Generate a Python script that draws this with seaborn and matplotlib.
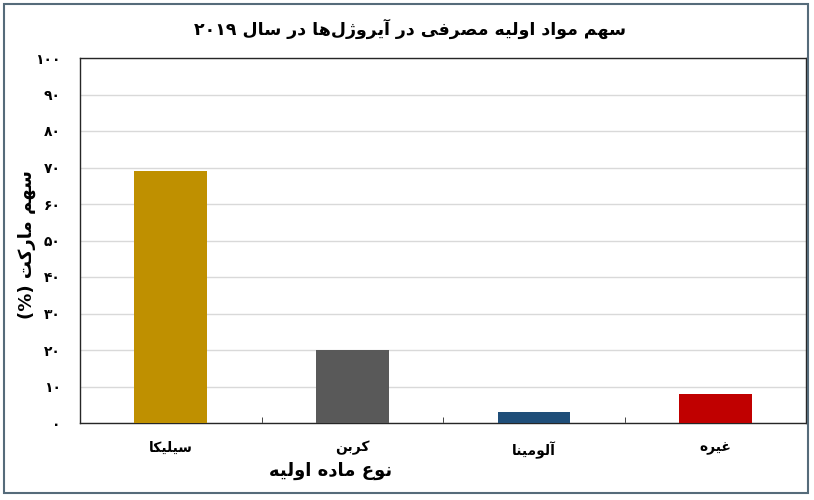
import matplotlib
matplotlib.use("Agg")
import matplotlib.pyplot as plt
import seaborn as sns
from matplotlib.patches import Rectangle

# chart data (Persian, logical order)
title = "سهم مواد اولیه مصرفی در آیروژل\u200cها در سال ۲۰۱۹"
x_title = "نوع ماده اولیه"
y_title = "سهم مارکت (%)"
categories = ["سیلیکا", "کربن", "آلومینا", "غیره"]
shares = [69, 20, 3, 8]
colors = ["#BF9000", "#595959", "#1F4E79", "#C00000"]
y_ticks = [0, 10, 20, 30, 40, 50, 60, 70, 80, 90, 100]

# minimal arabic/persian shaping, matplotlib does not do it itself
# letter: (isolated, final, initial, medial)
FORMS = {
    "ا": ("\uFE8D", "\uFE8E", None, None),
    "آ": ("\uFE81", "\uFE82", None, None),
    "د": ("\uFEA9", "\uFEAA", None, None),
    "ر": ("\uFEAD", "\uFEAE", None, None),
    "ز": ("\uFEAF", "\uFEB0", None, None),
    "ژ": ("\uFB8A", "\uFB8B", None, None),
    "و": ("\uFEED", "\uFEEE", None, None),
    "ب": ("\uFE8F", "\uFE90", "\uFE91", "\uFE92"),
    "ت": ("\uFE95", "\uFE96", "\uFE97", "\uFE98"),
    "س": ("\uFEB1", "\uFEB2", "\uFEB3", "\uFEB4"),
    "ص": ("\uFEB9", "\uFEBA", "\uFEBB", "\uFEBC"),
    "ع": ("\uFEC9", "\uFECA", "\uFECB", "\uFECC"),
    "غ": ("\uFECD", "\uFECE", "\uFECF", "\uFED0"),
    "ف": ("\uFED1", "\uFED2", "\uFED3", "\uFED4"),
    "ک": ("\uFB8E", "\uFB8F", "\uFB90", "\uFB91"),
    "ل": ("\uFEDD", "\uFEDE", "\uFEDF", "\uFEE0"),
    "م": ("\uFEE1", "\uFEE2", "\uFEE3", "\uFEE4"),
    "ن": ("\uFEE5", "\uFEE6", "\uFEE7", "\uFEE8"),
    "ه": ("\uFEE9", "\uFEEA", "\uFEEB", "\uFEEC"),
    "ی": ("\uFBFC", "\uFBFD", "\uFBFE", "\uFBFF"),
}
MIRROR = {"(": ")", ")": "("}
DIGITS = set("۰۱۲۳۴۵۶۷۸۹0123456789")


def rtl(text):
    out = []
    for i, c in enumerate(text):
        if c == "\u200c":
            continue
        if c not in FORMS:
            out.append(c)
            continue
        iso, fin, ini, med = FORMS[c]
        prev = text[i - 1] if i > 0 else None
        nxt = text[i + 1] if i + 1 < len(text) else None
        join_prev = prev in FORMS and FORMS[prev][2] is not None
        join_next = ini is not None and nxt in FORMS
        if join_prev and join_next:
            out.append(med)
        elif join_prev:
            out.append(fin)
        elif join_next:
            out.append(ini)
        else:
            out.append(iso)
    # split into digit / non-digit runs, reverse for display
    runs = []
    for c in out:
        is_d = c in DIGITS
        if runs and runs[-1][0] == is_d:
            runs[-1][1].append(c)
        else:
            runs.append([is_d, [c]])
    vis = ""
    for is_d, chars in reversed(runs):
        if is_d:
            vis += "".join(chars)
        else:
            vis += "".join(MIRROR.get(c, c) for c in reversed(chars))
    return vis


def fa_num(n):
    return str(n).translate(str.maketrans("0123456789", "۰۱۲۳۴۵۶۷۸۹"))


plt.rcParams["font.family"] = ["DejaVu Sans"]

fig = plt.figure(figsize=(8.14, 5.0), dpi=100)
ax = fig.add_axes([0.0983, 0.154, 0.892, 0.730])

labels = [rtl(c) for c in categories]
sns.barplot(x=labels, y=shares, hue=labels, palette=colors, legend=False,
            width=0.4, saturation=1, ax=ax, zorder=3)

ax.set_ylim(0, 100)
ax.set_xlim(-0.5, len(categories) - 0.5)
ax.set_yticks(y_ticks)
ax.set_yticklabels([fa_num(v) for v in y_ticks], fontsize=10, fontweight="bold")
ax.grid(axis="y", color="#D9D9D9", linewidth=1, zorder=0)
ax.set_axisbelow(True)
for s in ax.spines.values():
    s.set_color("#262626")
    s.set_linewidth(1)

ax.tick_params(axis="y", length=0, pad=14)
ax.tick_params(axis="x", which="major", length=0, pad=13, labelsize=10)
for t in ax.get_xticklabels():
    t.set_fontweight("bold")
ax.set_xticks([0.5, 1.5, 2.5], minor=True)
ax.tick_params(axis="x", which="minor", direction="in", length=4, color="#262626")

ax.set_xlabel(rtl(x_title), fontsize=13, fontweight="bold")
ax.xaxis.set_label_coords(0.345, -0.105)
ax.set_ylabel(rtl(y_title), fontsize=13, fontweight="bold")
ax.yaxis.set_label_coords(-0.06, 0.49)
fig.text(0.504, 0.943, rtl(title), ha="center", va="center",
         fontsize=12.5, fontweight="bold")

# outer frame around the whole chart
fig.patches.append(Rectangle((0.005, 0.014), 0.988, 0.978, transform=fig.transFigure,
                             fill=False, edgecolor="#556b7a", linewidth=1.5))

fig.savefig("out.png", dpi=100)
